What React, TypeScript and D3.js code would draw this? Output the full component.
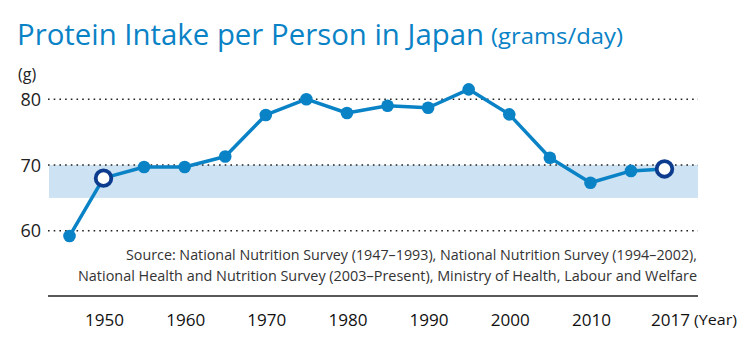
import React from "react";
import * as d3 from "d3";

const years = [1946, 1950, 1955, 1960, 1965, 1970, 1975, 1980, 1985, 1990, 1995, 2000, 2005, 2010, 2015, 2017];
const protein = [59.2, 68.0, 69.7, 69.7, 71.3, 77.6, 80.0, 77.9, 79.0, 78.7, 81.5, 77.7, 71.1, 67.3, 69.1, 69.4];
const hollowYears = [1950, 2017];
const xTickYears = [1950, 1960, 1970, 1980, 1990, 2000, 2010, 2017];
const yTicks = [60, 70, 80];
const bandRange = [65, 70];
const titleMain = "Protein Intake per Person in Japan";
const titleSub = "(grams/day)";
const sourceLines = [
  "Source: National Nutrition Survey (1947–1993), National Nutrition Survey (1994–2002),",
  "National Health and Nutrition Survey (2003–Present), Ministry of Health, Labour and Welfare",
];

const W = 747;
const H = 339;
const BLUE = "#0a82c6";
const DARK = "#0d3c8f";
const FONT = "'Open Sans', 'Noto Sans', sans-serif";

export default function App() {
  const x = d3.scaleLinear().domain([1946, 1950, 2015, 2017]).range([69.5, 103.5, 631, 664.5]);
  const y = d3.scaleLinear().domain([60, 80]).range([230.8, 99.2]);
  const gx0 = 48;
  const gx1 = 698;

  const pts = years.map((yr, i) => ({ yr, v: protein[i] }));
  const line = d3
    .line<{ yr: number; v: number }>()
    .x((d) => x(d.yr))
    .y((d) => y(d.v));

  return (
    <svg width={W} height={H} style={{ position: "absolute", left: 0, top: 0, background: "#fff" }}>
      <text x={17} y={45} fontFamily={FONT} fill={BLUE} fontSize={29} textLength={467} lengthAdjust="spacingAndGlyphs">
        {titleMain}
      </text>
      <text x={491} y={44} fontFamily={FONT} fill={BLUE} fontSize={21} textLength={132} lengthAdjust="spacingAndGlyphs">
        {titleSub}
      </text>

      {/* band */}
      <rect
        x={gx0 + 1}
        y={y(bandRange[1])}
        width={gx1 - gx0 - 1}
        height={y(bandRange[0]) - y(bandRange[1])}
        fill="#cde2f2"
      />

      {/* grid */}
      {yTicks.map((t) => (
        <g key={t}>
          <line x1={gx0} x2={gx1} y1={y(t)} y2={y(t)} stroke="#222" strokeWidth={1.6} strokeDasharray="1.6 4.1" />
          <text x={41} y={y(t) + 6.5} textAnchor="end" fontFamily={FONT} fontSize={18} fill="#222">
            {t}
          </text>
        </g>
      ))}
      <text x={18} y={80} fontFamily={FONT} fontSize={16} fill="#222">(g)</text>

      {/* line */}
      <path d={line(pts) || ""} fill="none" stroke={BLUE} strokeWidth={3.5} strokeLinejoin="round" />
      {pts.map((p) =>
        hollowYears.includes(p.yr) ? (
          <circle key={p.yr} cx={x(p.yr)} cy={y(p.v)} r={7.8} fill="#fff" stroke={DARK} strokeWidth={3.8} />
        ) : (
          <circle key={p.yr} cx={x(p.yr)} cy={y(p.v)} r={6.3} fill={BLUE} />
        )
      )}

      {/* source */}
      {sourceLines.map((s, i) => (
        <text
          key={i}
          x={697}
          y={260 + i * 21}
          textAnchor="end"
          fontFamily={FONT}
          fontSize={15}
          fill="#333"
          textLength={i === 0 ? 571 : 619}
          lengthAdjust="spacingAndGlyphs"
        >
          {s}
        </text>
      ))}

      {/* x axis */}
      <line x1={gx0} x2={gx1} y1={296} y2={296} stroke="#222" strokeWidth={1.6} />
      {xTickYears.map((t, i) => (
        <text
          key={t}
          x={x(t) + (i === xTickYears.length - 1 ? 6 : 1)}
          y={326}
          textAnchor="middle"
          fontFamily={FONT}
          fontSize={17}
          fill="#111"
          textLength={39}
          lengthAdjust="spacingAndGlyphs"
        >
          {t}
        </text>
      ))}
      <text x={694} y={325} fontFamily={FONT} fontSize={14} fill="#111" textLength={43} lengthAdjust="spacingAndGlyphs">
        (Year)
      </text>
    </svg>
  );
}
